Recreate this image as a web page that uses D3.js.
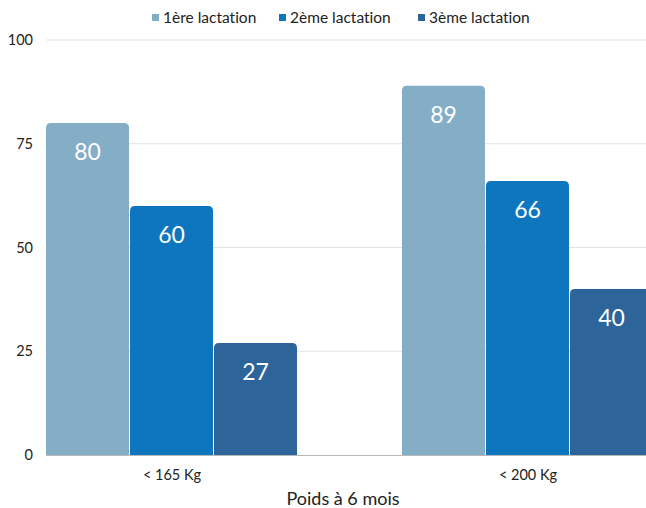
<!DOCTYPE html>
<html>
<head>
<meta charset="utf-8">
<script src="https://cdn.jsdelivr.net/npm/d3@7"></script>
<style>
  body { margin: 0; background: #fff; }
  text { font-family: Lato, "Noto Sans", sans-serif; font-variant-ligatures: none; }
</style>
</head>
<body>
<svg id="chart" width="646" height="508"></svg>
<script>
const groups = ["< 165 Kg", "< 200 Kg"];
const series = ["1ère lactation", "2ème lactation", "3ème lactation"];
const values = [
  [80, 60, 27],
  [89, 66, 40]
];
const yTicks = [0, 25, 50, 75, 100];
const colors = ["#84adc6", "#0e76bf", "#2d6499"];

const svg = d3.select("#chart");

//plot area (right side runs past the frame like the original)
const plotLeft = 46, plotRight = 654, plotTop = 40, plotBottom = 455;

const x0 = d3.scaleBand()
  .domain(groups)
  .range([plotLeft, plotRight])
  .paddingInner(0.292)
  .paddingOuter(0);

const x1 = d3.scaleBand()
  .domain(series)
  .range([0, x0.bandwidth()]);

const y = d3.scaleLinear()
  .domain([0, 100])
  .range([plotBottom, plotTop]);

const color = d3.scaleOrdinal().domain(series).range(colors);

//grid
svg.append("g")
  .selectAll("line")
  .data(yTicks.filter(t => t > 0))
  .join("line")
  .attr("x1", plotLeft)
  .attr("x2", 646)
  .attr("y1", d => y(d))
  .attr("y2", d => y(d))
  .attr("stroke", "#e2e2e2")
  .attr("stroke-width", 1);

//y labels
svg.append("g")
  .selectAll("text")
  .data(yTicks)
  .join("text")
  .attr("x", 33)
  .attr("y", d => y(d))
  .attr("dy", "0.35em")
  .attr("text-anchor", "end")
  .attr("font-size", "14.5px")
  .attr("fill", "#222")
  .text(d => d);

//rounded-top bar path
function barPath(x, yTop, w, h, r) {
  r = Math.min(r, h, w / 2);
  return `M${x},${yTop + h}V${yTop + r}Q${x},${yTop} ${x + r},${yTop}` +
    `H${x + w - r}Q${x + w},${yTop} ${x + w},${yTop + r}V${yTop + h}Z`;
}

const gGroups = svg.append("g")
  .selectAll("g")
  .data(groups)
  .join("g")
  .attr("transform", d => `translate(${x0(d)},0)`);

const cells = gGroups.selectAll("g")
  .data((g, gi) => series.map((s, si) => ({ s, v: values[gi][si] })))
  .join("g");

cells.append("path")
  .attr("d", d => barPath(x1(d.s), y(d.v), x1.bandwidth() - 1, y(0) - y(d.v), 5))
  .attr("fill", d => color(d.s));

cells.append("text")
  .attr("x", d => x1(d.s) + (x1.bandwidth() - 1) / 2)
  .attr("y", d => y(d.v) + 37)
  .attr("text-anchor", "middle")
  .attr("font-size", "23px")
  .attr("fill", "#fff")
  .text(d => d.v);

//baseline
svg.append("line")
  .attr("x1", plotLeft)
  .attr("x2", 646)
  .attr("y1", y(0) + 0.5)
  .attr("y2", y(0) + 0.5)
  .attr("stroke", "#b8b8b8");

//x labels
svg.append("g")
  .selectAll("text")
  .data(groups)
  .join("text")
  .attr("x", d => x0(d) + x0.bandwidth() / 2)
  .attr("y", 480)
  .attr("text-anchor", "middle")
  .attr("font-size", "14.5px")
  .attr("fill", "#222")
  .text(d => d);

//axis title
svg.append("text")
  .attr("x", 343)
  .attr("y", 505)
  .attr("text-anchor", "middle")
  .attr("font-size", "18px")
  .attr("fill", "#222")
  .text("Poids à 6 mois");

//legend
const legendX = [152, 279, 418];
const legend = svg.append("g")
  .selectAll("g")
  .data(series)
  .join("g")
  .attr("transform", (d, i) => `translate(${legendX[i]},18)`);

legend.append("rect")
  .attr("x", 0)
  .attr("y", -4)
  .attr("width", 7)
  .attr("height", 7)
  .attr("fill", d => color(d));

legend.append("text")
  .attr("x", 11)
  .attr("y", 0)
  .attr("dy", "0.35em")
  .attr("font-size", "15.5px")
  .attr("fill", "#222")
  .text(d => d);
</script>
</body>
</html>
